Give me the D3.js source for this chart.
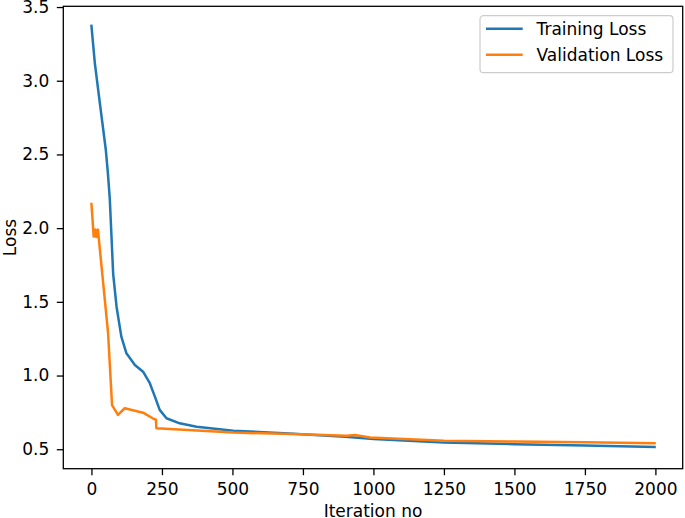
<!DOCTYPE html>
<html><head><meta charset="utf-8">
<script src="https://cdn.jsdelivr.net/npm/d3@7"></script>
<style>body{margin:0;background:#fff}svg{display:block}text{font-family:"DejaVu Sans",sans-serif;fill:#000}</style>
</head><body>
<svg id="c" width="685" height="518"></svg>
<script>
const seriesNames = ["Training Loss", "Validation Loss"];
const trainIter = [0,12,27,39,51,58,65,77,89,106,124,154,183,207,225,242,266,313,373,503,562,700,900,1000,1250,1500,1750,1997];
const trainLoss = [3.372,3.12,2.89,2.71,2.53,2.38,2.2,1.69,1.467,1.264,1.151,1.072,1.026,0.948,0.857,0.767,0.71,0.676,0.653,0.626,0.62,0.607,0.584,0.57,0.546,0.534,0.525,0.515];
const valIter = [0,8,14,17,23,59,73,94,118,183,217,229,230,503,740,905,935,988,1250,1500,1750,1997];
const valLoss = [2.164,1.943,1.99,1.94,1.99,1.287,0.80,0.733,0.778,0.748,0.71,0.70,0.642,0.613,0.602,0.592,0.597,0.579,0.558,0.552,0.547,0.54];
const xTicks = [0,250,500,750,1000,1250,1500,1750,2000];
const yTicks = [0.5,1.0,1.5,2.0,2.5,3.0,3.5];
const colors = ["#1f77b4", "#ff7f0e"];

const L = 63.3, R = 682.7, T = 6.3, B = 468.7;
const FS = "17px";
const svg = d3.select("#c");
const x = d3.scaleLinear().domain([-99.85, 2096.85]).range([L, R]);
const y = d3.scaleLinear().domain([0.368, 3.505]).range([B, T]);

const xa = svg.append("g").attr("transform", `translate(0,${B})`)
  .call(d3.axisBottom(x).tickValues(xTicks).tickFormat(d3.format("d")).tickSize(6.5).tickPadding(8.2));
const ya = svg.append("g").attr("transform", `translate(${L},0)`)
  .call(d3.axisLeft(y).tickValues(yTicks).tickFormat(d3.format(".1f")).tickSize(6.5).tickPadding(7.5));
[xa, ya].forEach(a => {
  a.select(".domain").remove();
  a.selectAll("line").attr("stroke", "#000").attr("stroke-width", 1.3);
  a.selectAll("text").style("font-size", FS).attr("fill", "#000");
});

const line = d3.line().x(d => x(d[0])).y(d => y(d[1]));
const data = [d3.zip(trainIter, trainLoss), d3.zip(valIter, valLoss)];
data.forEach((d, i) => {
  svg.append("path").datum(d).attr("d", line).attr("fill", "none")
    .attr("stroke", colors[i]).attr("stroke-width", 2.5).attr("stroke-linejoin", "round").attr("stroke-linecap", "square");
});

svg.append("rect").attr("x", L).attr("y", T).attr("width", R - L).attr("height", B - T)
  .attr("fill", "none").attr("stroke", "#000").attr("stroke-width", 1.3);

// legend
const lg = svg.append("g");
lg.append("rect").attr("x", 480).attr("y", 15.7).attr("width", 193).attr("height", 57).attr("rx", 3.5)
  .attr("fill", "#fff").attr("fill-opacity", 0.8).attr("stroke", "#ccc").attr("stroke-width", 1.2);
seriesNames.forEach((n, i) => {
  const yy = 28.7 + i * 26;
  lg.append("line").attr("x1", 486).attr("x2", 522.7).attr("y1", yy).attr("y2", yy)
    .attr("stroke", colors[i]).attr("stroke-width", 2.5);
  lg.append("text").attr("x", 536.5).attr("y", yy).attr("dy", "0.36em").style("font-size", FS).text(n);
});

svg.append("text").attr("x", (L + R) / 2).attr("y", 517.3).attr("text-anchor", "middle").style("font-size", FS).text("Iteration no");
svg.append("text").attr("transform", `translate(16,${(T + B) / 2}) rotate(-90)`).attr("text-anchor", "middle").style("font-size", FS).text("Loss");
</script>
</body></html>
